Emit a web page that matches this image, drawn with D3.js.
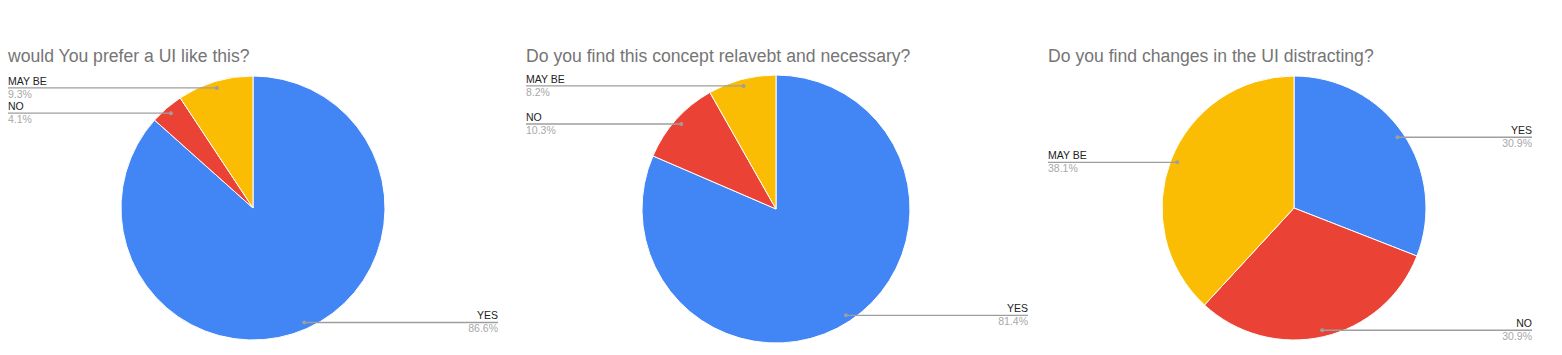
<!DOCTYPE html>
<html>
<head>
<meta charset="utf-8">
<script src="https://cdn.jsdelivr.net/npm/d3@7"></script>
<style>
  html, body { margin: 0; padding: 0; background: #fff; }
  svg { display: block; font-family: "Liberation Sans", Arial, sans-serif; }
</style>
</head>
<body>
<svg id="chart" width="1562" height="355"></svg>
<script>
// ---- data ----
const categories = ["YES", "NO", "MAY BE"];
const titles = [
  "would You prefer a UI like this?",
  "Do you find this concept relavebt and necessary?",
  "Do you find changes in the UI distracting?"
];
const chart1Values = [86.6, 4.1, 9.3];
const chart2Values = [81.4, 10.3, 8.2];
const chart3Values = [30.9, 30.9, 38.1];
const colors = ["#4285F4", "#EA4335", "#FBBC04"];

// ---- layout ----
const panels = [
  { values: chart1Values, title: titles[0], left: 8,    right: 498,  cx: 253,  cy: 208, r: 132 },
  { values: chart2Values, title: titles[1], left: 526,  right: 1028, cx: 776,  cy: 209, r: 134 },
  { values: chart3Values, title: titles[2], left: 1048, right: 1532, cx: 1294, cy: 208, r: 132 }
];

const svg = d3.select("#chart");
const color = d3.scaleOrdinal().domain(categories).range(colors);
const pie = d3.pie().sort(null).value(d => d.value);

panels.forEach(p => {
  const g = svg.append("g");
  g.append("text")
    .attr("x", p.left).attr("y", 62)
    .attr("fill", "#757575")
    .style("font-size", "17.6px")
    .text(p.title);

  const data = categories.map((c, i) => ({ cat: c, value: p.values[i] }));
  const arcs = pie(data);
  const arc = d3.arc().innerRadius(0).outerRadius(p.r);
  const pg = g.append("g").attr("transform", `translate(${p.cx},${p.cy})`);
  pg.selectAll("path").data(arcs).join("path")
    .attr("d", arc)
    .attr("fill", d => color(d.data.cat))
    .attr("stroke", "#fff")
    .attr("stroke-width", 1);

  const dotR = p.r * 0.95;
  arcs.forEach(a => {
    const mid = (a.startAngle + a.endAngle) / 2;
    const dx = p.cx + Math.sin(mid) * dotR;
    const dy = p.cy - Math.cos(mid) * dotR;
    const isLeft = Math.sin(mid) < 0;
    const xEnd = isLeft ? p.left : p.right;
    g.append("line")
      .attr("x1", dx).attr("y1", dy).attr("x2", xEnd).attr("y2", dy)
      .attr("stroke", "#9e9e9e").attr("stroke-width", 1.4);
    g.append("circle")
      .attr("cx", dx).attr("cy", dy).attr("r", 2)
      .attr("fill", "#9e9e9e");
    const anchor = isLeft ? "start" : "end";
    g.append("text")
      .attr("x", xEnd).attr("y", dy - 3)
      .attr("text-anchor", anchor)
      .attr("fill", "#222")
      .style("font-size", "10.5px")
      .text(a.data.cat);
    g.append("text")
      .attr("x", xEnd).attr("y", dy + 10)
      .attr("text-anchor", anchor)
      .attr("fill", "#a8a8a8")
      .style("font-size", "10.5px")
      .text(a.data.value.toFixed(1) + "%");
  });
});
</script>
</body>
</html>
